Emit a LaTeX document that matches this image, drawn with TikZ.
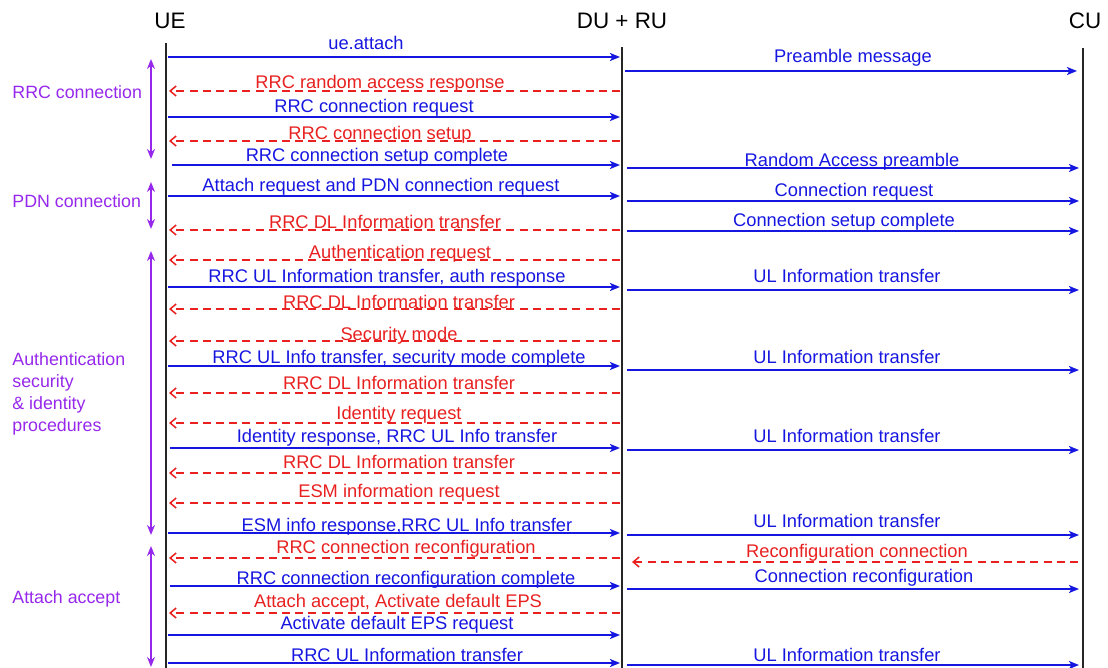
\documentclass[tikz,border=0pt]{standalone}
\usepackage{fontspec}
\setmainfont{Liberation Sans}
\usetikzlibrary{arrows.meta, positioning}

\definecolor{msgblue}{RGB}{22,22,225}
\definecolor{msgred}{RGB}{232,32,32}
\definecolor{phasepurple}{RGB}{150,40,235}

\begin{document}
\begin{tikzpicture}[
    x=0.5pt, y=-0.5pt,
    entity/.style={font=\fontsize{11.2pt}{13pt}\selectfont, inner sep=0pt, anchor=base},
    lifeline/.style={draw=black!85, line width=0.8pt},
    uplink/.style={draw=msgblue, line width=0.85pt, -{Stealth[length=5pt, width=4pt, inset=1.2pt]}},
    downlink/.style={draw=msgred, line width=0.75pt, dash pattern=on 4pt off 2.6pt, -{Straight Barb[length=3pt, width=5pt]}},
    ultxt/.style={font=\fontsize{9.15pt}{11pt}\selectfont, text=msgblue, inner sep=0pt, anchor=base},
    dltxt/.style={font=\fontsize{9.15pt}{11pt}\selectfont, text=msgred, inner sep=0pt, anchor=base},
    phase/.style={draw=phasepurple, line width=0.9pt, {Stealth[length=5pt, width=4pt]}-{Stealth[length=5pt, width=4pt]}},
    phasetxt/.style={font=\fontsize{8.9pt}{11pt}\selectfont, text=phasepurple, inner sep=0pt, align=left}
]
\useasboundingbox (0,0) rectangle (1108,668);

% Entities & lifelines
\node[entity] (ue) at (170,29) {UE};
\node[entity] (du) at (622,29) {DU + RU};
\node[entity] (cu) at (1085,29) {CU};
\coordinate (ue_top) at (166,43);  \coordinate (ue_bot) at (166,668);
\coordinate (du_top) at (622,47);  \coordinate (du_bot) at (622,668);
\coordinate (cu_top) at (1083,48); \coordinate (cu_bot) at (1083,668);
\draw[lifeline] (ue_top) -- (ue_bot);
\draw[lifeline] (du_top) -- (du_bot);
\draw[lifeline] (cu_top) -- (cu_bot);

% UE <-> DU + RU messages
\coordinate (ue_1) at (168,57);  \coordinate (du_1) at (620,57);
\coordinate (ue_2) at (169,91);  \coordinate (du_2) at (620,91);
\coordinate (ue_3) at (168,117); \coordinate (du_3) at (620,117);
\coordinate (ue_4) at (169,141); \coordinate (du_4) at (620,141);
\coordinate (ue_5) at (172,165); \coordinate (du_5) at (620,165);
\coordinate (ue_6) at (168,196); \coordinate (du_6) at (620,196);
\coordinate (ue_7) at (169,230); \coordinate (du_7) at (620,230);
\coordinate (ue_8) at (169,260); \coordinate (du_8) at (620,260);
\coordinate (ue_9) at (168,287); \coordinate (du_9) at (620,287);
\coordinate (ue_10) at (169,309); \coordinate (du_10) at (620,309);
\coordinate (ue_11) at (169,341); \coordinate (du_11) at (620,341);
\coordinate (ue_12) at (168,366); \coordinate (du_12) at (620,366);
\coordinate (ue_13) at (169,393); \coordinate (du_13) at (620,393);
\coordinate (ue_14) at (169,423); \coordinate (du_14) at (620,423);
\coordinate (ue_15) at (170,448); \coordinate (du_15) at (620,448);
\coordinate (ue_16) at (169,473); \coordinate (du_16) at (620,473);
\coordinate (ue_17) at (169,503); \coordinate (du_17) at (620,503);
\coordinate (ue_18) at (168,533); \coordinate (du_18) at (620,533);
\coordinate (ue_19) at (169,558); \coordinate (du_19) at (620,558);
\coordinate (ue_20) at (170,586); \coordinate (du_20) at (620,586);
\coordinate (ue_21) at (169,613); \coordinate (du_21) at (620,613);
\coordinate (ue_22) at (168,635); \coordinate (du_22) at (620,635);
\coordinate (ue_23) at (168,663); \coordinate (du_23) at (620,663);

\draw[uplink] (ue_1) -- (du_1);
\draw[downlink] (du_2) -- (ue_2);
\draw[uplink] (ue_3) -- (du_3);
\draw[downlink] (du_4) -- (ue_4);
\draw[uplink] (ue_5) -- (du_5);
\draw[uplink] (ue_6) -- (du_6);
\draw[downlink] (du_7) -- (ue_7);
\draw[downlink] (du_8) -- (ue_8);
\draw[uplink] (ue_9) -- (du_9);
\draw[downlink] (du_10) -- (ue_10);
\draw[downlink] (du_11) -- (ue_11);
\draw[uplink] (ue_12) -- (du_12);
\draw[downlink] (du_13) -- (ue_13);
\draw[downlink] (du_14) -- (ue_14);
\draw[uplink] (ue_15) -- (du_15);
\draw[downlink] (du_16) -- (ue_16);
\draw[downlink] (du_17) -- (ue_17);
\draw[uplink] (ue_18) -- (du_18);
\draw[downlink] (du_19) -- (ue_19);
\draw[uplink] (ue_20) -- (du_20);
\draw[downlink] (du_21) -- (ue_21);
\draw[uplink] (ue_22) -- (du_22);
\draw[uplink] (ue_23) -- (du_23);

\node[ultxt] (msg_1) at (366,50) {ue.attach};
\node[dltxt] (msg_2) at (380,89) {RRC random access response};
\node[ultxt] (msg_3) at (374,113) {RRC connection request};
\node[dltxt] (msg_4) at (380,140) {RRC connection setup};
\node[ultxt] (msg_5) at (377,162) {RRC connection setup complete};
\node[ultxt] (msg_6) at (381,192) {Attach request and PDN connection request};
\node[dltxt] (msg_7) at (385,229) {RRC DL Information transfer};
\node[dltxt] (msg_8) at (400,259) {Authentication request};
\node[ultxt] (msg_9) at (387,283) {RRC UL Information transfer, auth response};
\node[dltxt] (msg_10) at (399,308) {RRC DL Information transfer};
\node[dltxt] (msg_11) at (399,340) {Security mode};
\node[ultxt] (msg_12) at (399,363) {RRC UL Info transfer, security mode complete};
\node[dltxt] (msg_13) at (399,389) {RRC DL Information transfer};
\node[dltxt] (msg_14) at (399,419) {Identity request};
\node[ultxt] (msg_15) at (397,442) {Identity response, RRC UL Info transfer};
\node[dltxt] (msg_16) at (399,468) {RRC DL Information transfer};
\node[dltxt] (msg_17) at (399,497) {ESM information request};
\node[ultxt] (msg_18) at (407,531) {ESM info response,RRC UL Info transfer};
\node[dltxt] (msg_19) at (406,553) {RRC connection reconfiguration};
\node[ultxt] (msg_20) at (406,584) {RRC connection reconfiguration complete};
\node[dltxt] (msg_21) at (398,607) {Attach accept, Activate default EPS};
\node[ultxt] (msg_22) at (397,629) {Activate default EPS request};
\node[ultxt] (msg_23) at (407,661) {RRC UL Information transfer};

% DU + RU <-> CU messages
\coordinate (du_r1) at (625,71);  \coordinate (cu_r1) at (1077,71);
\coordinate (du_r2) at (627,168); \coordinate (cu_r2) at (1079,168);
\coordinate (du_r3) at (627,201); \coordinate (cu_r3) at (1079,201);
\coordinate (du_r4) at (627,231); \coordinate (cu_r4) at (1079,231);
\coordinate (du_r5) at (627,290); \coordinate (cu_r5) at (1079,290);
\coordinate (du_r6) at (627,370); \coordinate (cu_r6) at (1079,370);
\coordinate (du_r7) at (627,450); \coordinate (cu_r7) at (1079,450);
\coordinate (du_r8) at (627,535); \coordinate (cu_r8) at (1079,535);
\coordinate (du_r9) at (632,562); \coordinate (cu_r9) at (1078,562);
\coordinate (du_r10) at (627,589); \coordinate (cu_r10) at (1079,589);
\coordinate (du_r11) at (627,665); \coordinate (cu_r11) at (1079,665);

\draw[uplink] (du_r1) -- (cu_r1);
\draw[uplink] (du_r2) -- (cu_r2);
\draw[uplink] (du_r3) -- (cu_r3);
\draw[uplink] (du_r4) -- (cu_r4);
\draw[uplink] (du_r5) -- (cu_r5);
\draw[uplink] (du_r6) -- (cu_r6);
\draw[uplink] (du_r7) -- (cu_r7);
\draw[uplink] (du_r8) -- (cu_r8);
\draw[downlink] (cu_r9) -- (du_r9);
\draw[uplink] (du_r10) -- (cu_r10);
\draw[uplink] (du_r11) -- (cu_r11);

\node[ultxt] (cmsg_1) at (853,63) {Preamble message};
\node[ultxt] (cmsg_2) at (852,167) {Random Access preamble};
\node[ultxt] (cmsg_3) at (854,197) {Connection request};
\node[ultxt] (cmsg_4) at (844,227) {Connection setup complete};
\node[ultxt] (cmsg_5) at (847,283) {UL Information transfer};
\node[ultxt] (cmsg_6) at (847,363) {UL Information transfer};
\node[ultxt] (cmsg_7) at (847,442) {UL Information transfer};
\node[ultxt] (cmsg_8) at (847,527) {UL Information transfer};
\node[dltxt] (cmsg_9) at (857,557) {Reconfiguration connection};
\node[ultxt] (cmsg_10) at (864,582) {Connection reconfiguration};
\node[ultxt] (cmsg_11) at (847,661) {UL Information transfer};

% Procedure phases
\coordinate (rrc_top) at (151,59);   \coordinate (rrc_bot) at (151,159);
\coordinate (pdn_top) at (151,182);  \coordinate (pdn_bot) at (151,229);
\coordinate (auth_top) at (151,251); \coordinate (auth_bot) at (151,535);
\coordinate (acc_top) at (151,546);  \coordinate (acc_bot) at (151,667);
\draw[phase] (rrc_top) -- (rrc_bot);
\draw[phase] (pdn_top) -- (pdn_bot);
\draw[phase] (auth_top) -- (auth_bot);
\draw[phase] (acc_top) -- (acc_bot);

\node[phasetxt, anchor=base west] (rrc) at (12,99) {RRC connection};
\node[phasetxt, anchor=base west] (pdn) at (12,208) {PDN connection};
\node[phasetxt, anchor=north west] (auth) at (12,352) {Authentication\\security\\\& identity\\procedures};
\node[phasetxt, anchor=base west] (acc) at (12,603) {Attach accept};

\end{tikzpicture}
\end{document}
